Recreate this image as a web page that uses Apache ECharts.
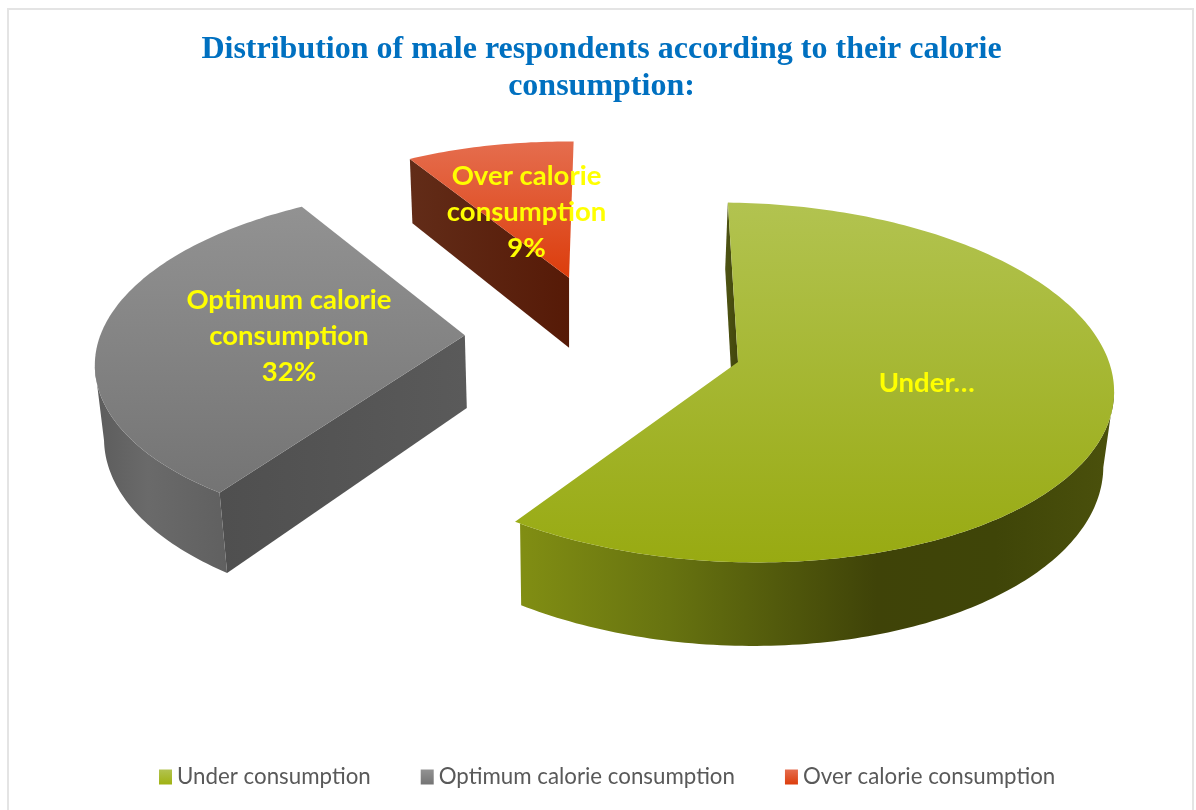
<!DOCTYPE html>
<html>
<head>
<meta charset="utf-8">
<style>html,body{margin:0;padding:0;background:#fff}#chart{width:1196px;height:810px}</style>
<script src="https://cdn.jsdelivr.net/npm/echarts@6/dist/echarts.min.js"></script>
</head>
<body>
<div id="chart"></div>
<script>
// Calorie consumption figures; slices are sized by share of their total
const categories = ['Under consumption', 'Optimum calorie consumption', 'Over calorie consumption'];
const shares = [60, 32, 9];
const sliceLabels = ['Under…', 'Optimum calorie\nconsumption\n32%', 'Over calorie\nconsumption\n9%'];

// Perspective camera for the exploded 3D pie
const camera = { vx: 570, vy: -1200, nadirY: 4200, depth: 3280, height: 1562 };
const pie = { thickness: 74, firstAngle: 1.5 };
const sliceRadius = [373, 367, 352];
const rimShift = [[-2, 0], [-4, -11], [-4, 0]];
const explode = [[168, 0], [-107, 57], [-1, 187]];
const labelNudge = [[8, -7], [11, -1], [3, 7]];

const vert = (a, b) => ({ type: 'linear', x: 0, y: 0, x2: 0, y2: 1, colorStops: [{ offset: 0, color: a }, { offset: 1, color: b }] });
const horiz = (stops) => ({ type: 'linear', x: 0, y: 0, x2: 1, y2: 0, colorStops: stops.map(s => ({ offset: s[0], color: s[1] })) });

const topFill = [vert('#b2c350', '#98aa12'), vert('#929292', '#747474'), vert('#e56d4e', '#dc3d0c')];
const legendFill = [vert('#b2c350', '#a0b212'), vert('#929292', '#747474'), vert('#e56d4e', '#dc3d0c')];
const outerFill = [
  horiz([[0, '#818e13'], [0.25, '#677310'], [0.6, '#3f4308'], [0.8, '#3f4508'], [1, '#4b510c']]),
  horiz([[0, '#5c5c5c'], [0.4, '#6a6a6a'], [1, '#606060']]),
  horiz([[0, '#5a5a5a'], [1, '#5a5a5a']])
];
const radialFill = [
  horiz([[0, '#4e5414'], [1, '#41460b']]),
  horiz([[0, '#4f4f4f'], [1, '#5a5a5a']]),
  horiz([[0, '#622c18'], [1, '#561a07']])
];

const total = shares.reduce((a, b) => a + b, 0);

// Ground-plane point to screen; verticals lean towards the nadir as they drop
function project(x, z, drop) {
  const s = camera.depth / (camera.depth + z);
  const sx = camera.vx + x * s;
  const sy = camera.vy + camera.height * s;
  const dy = drop * s;
  return [sx + (camera.vx - sx) * dy / (camera.nadirY - sy), sy + dy];
}

function renderSlice(index, api) {
  const before = shares.slice(0, index).reduce((a, b) => a + b, 0);
  const from = pie.firstAngle + before / total * 360;
  const to = from + api.value(0) / total * 360;
  const [ax, az] = explode[index];
  const [sx, sz] = rimShift[index];
  const R = sliceRadius[index], T = pie.thickness;
  const rim = (deg, r) => {
    const t = deg * Math.PI / 180;
    return [ax + sx + r * Math.sin(t), az + sz + r * Math.cos(t)];
  };
  const children = [];

  // Flat side face along the leading edge
  const p0 = rim(from, R);
  children.push({
    type: 'polygon',
    shape: { points: [project(ax, az, 0), project(p0[0], p0[1], 0), project(p0[0], p0[1], T), project(ax, az, T)] },
    style: { fill: radialFill[index] }
  });

  // Curved outer wall over the part of the arc facing the camera
  const upper = [], lower = [];
  for (let d = from; d <= to + 1e-6; d += 1) {
    const p = rim(d, R);
    const t = d * Math.PI / 180;
    if ((-p[0]) * Math.sin(t) + (-camera.depth - p[1]) * Math.cos(t) > 0) {
      upper.push(project(p[0], p[1], 0));
      lower.unshift(project(p[0], p[1], T));
    }
  }
  if (upper.length > 1) {
    children.push({ type: 'polygon', shape: { points: upper.concat(lower) }, style: { fill: outerFill[index] } });
  }

  // Top face
  const face = [project(ax, az, 0)];
  for (let d = from; d < to; d += 1) {
    const p = rim(d, R);
    face.push(project(p[0], p[1], 0));
  }
  const e = rim(to, R);
  face.push(project(e[0], e[1], 0));
  children.push({ type: 'polygon', shape: { points: face }, style: { fill: topFill[index] } });

  // Data label at the middle of the slice
  const m = rim((from + to) / 2, 186);
  const at = project(m[0], m[1], 0);
  children.push({
    type: 'text',
    style: {
      x: at[0] + labelNudge[index][0], y: at[1] + labelNudge[index][1],
      text: sliceLabels[index], fill: '#ffff00',
      fontFamily: 'Lato', fontWeight: 'bold', fontSize: 27.5, lineHeight: 36,
      align: 'center', verticalAlign: 'middle'
    }
  });
  return { type: 'group', children };
}

const chart = echarts.init(document.getElementById('chart'), null, { renderer: 'canvas' });
chart.setOption({
  animation: false,
  backgroundColor: '#ffffff',
  title: {
    text: 'Distribution of male respondents according to their calorie\nconsumption:',
    left: 596.5, top: 26, textAlign: 'center',
    textStyle: { fontFamily: 'Liberation Serif', fontWeight: 'bold', fontSize: 32, lineHeight: 37, color: '#0070c0' }
  },
  legend: {
    left: 154, top: 761, itemWidth: 13, itemHeight: 15, itemGap: 50, icon: 'rect',
    data: categories.map((name, i) => ({ name, itemStyle: { color: legendFill[i] } })),
    textStyle: { fontFamily: 'Lato', fontSize: 22.3, color: '#595959' }
  },
  graphic: [{
    type: 'rect', silent: true,
    shape: { x: 8, y: 9, width: 1185, height: 820 },
    style: { fill: 'none', stroke: '#e4e4e4', lineWidth: 2 }
  }],
  series: categories.map((name, i) => ({
    type: 'custom',
    name,
    coordinateSystem: 'none',
    silent: true,
    data: [[shares[i]]],
    itemStyle: { color: legendFill[i] },
    renderItem: (params, api) => renderSlice(i, api)
  }))
});
</script>
</body>
</html>
